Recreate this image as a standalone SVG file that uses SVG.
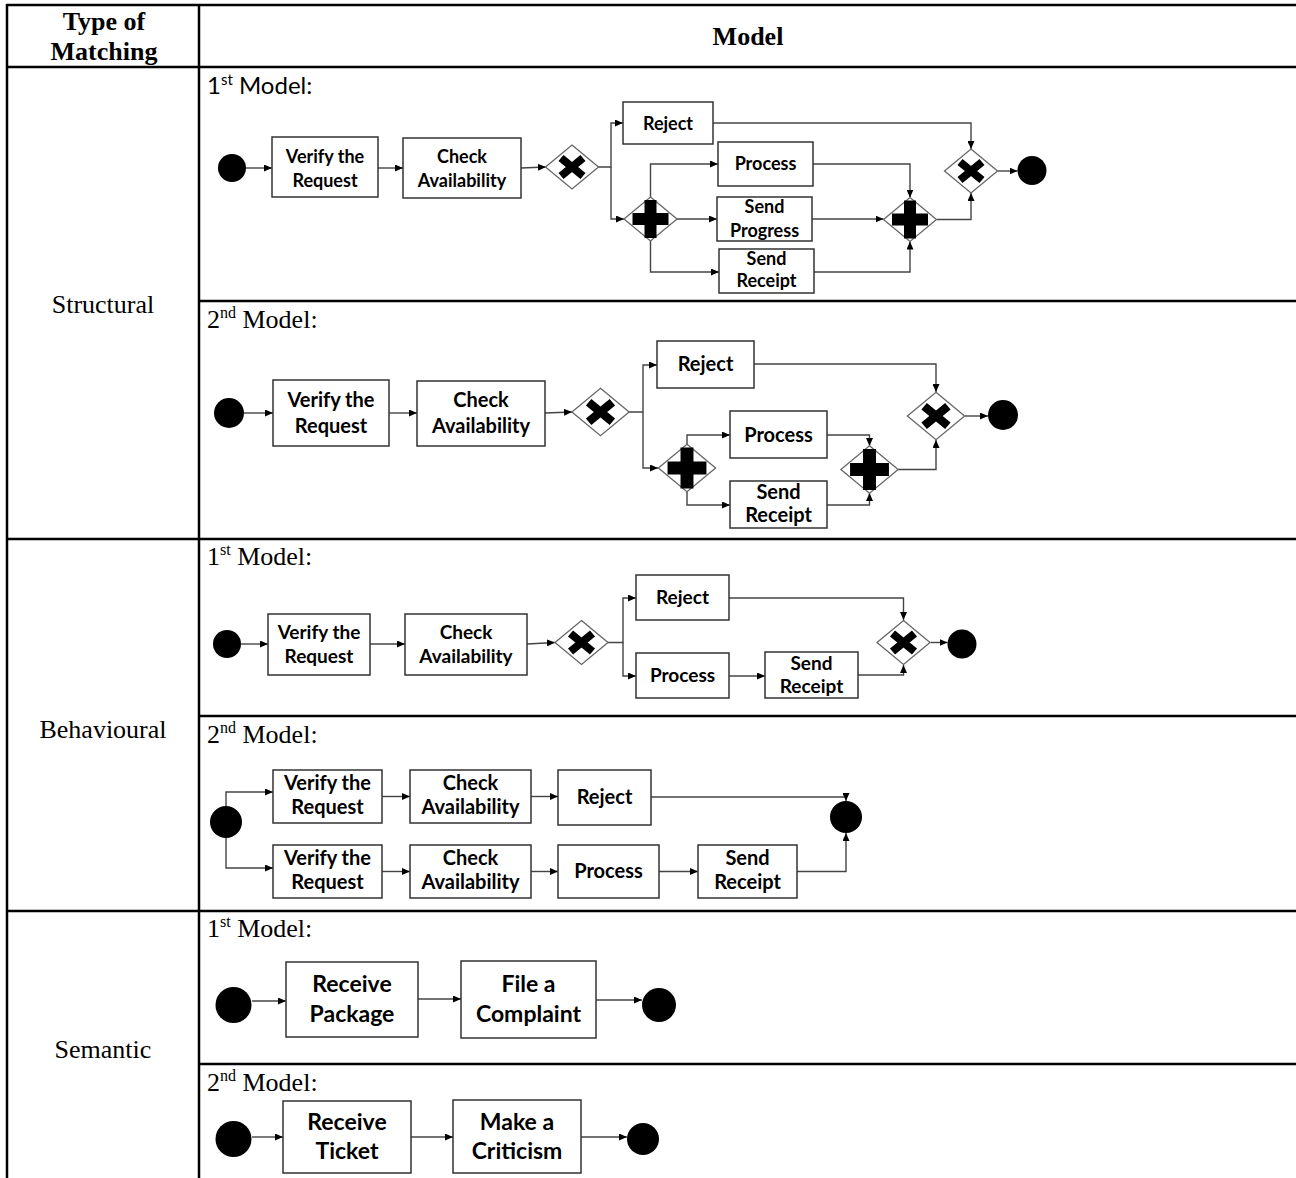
<svg xmlns="http://www.w3.org/2000/svg" width="1296" height="1178" viewBox="0 0 1296 1178">
<style>
.bg{fill:#fff}
.tbl{stroke:#000;stroke-width:2.5;fill:none}
.task{fill:#fff;stroke:#333;stroke-width:1.5}
.gw{fill:#fff;stroke:#666;stroke-width:1.3}
.ev{fill:#000}
.conn{fill:none;stroke:#444;stroke-width:1.4;marker-end:url(#arr)}
.hdr{font-family:"Liberation Serif","Times New Roman",serif;font-weight:bold;font-size:26px;fill:#000;text-anchor:middle}
.cat{font-family:"Liberation Serif","Times New Roman",serif;font-size:26px;fill:#000;text-anchor:middle}
.mlab{font-family:"Liberation Serif","Times New Roman",serif;font-size:26px;fill:#000}
.mlabs{font-family:Lato,"Liberation Sans",sans-serif;font-size:24px;fill:#000}
.t{font-family:Lato,"Liberation Sans",sans-serif;font-weight:bold;fill:#000;text-anchor:middle}
.s1{font-size:18px}
.s2{font-size:20px}
.s3{font-size:19px}
.s4{font-size:20px}
.s5{font-size:23px}
</style>
<defs>
<marker id="arr" markerUnits="userSpaceOnUse" markerWidth="8" markerHeight="7" refX="8" refY="3.5" orient="auto">
<path d="M0,0 L8,3.5 L0,7 Z" fill="#000"/>
</marker>
<g id="xorG">
<polygon class="gw" points="0,-22 26.5,0 0,22 -26.5,0" vector-effect="non-scaling-stroke"/>
<path d="M-11,-9 L11,9 M11,-9 L-11,9" stroke="#000" stroke-width="8" fill="none"/>
</g>
<g id="andG">
<polygon class="gw" points="0,-22 26.5,0 0,22 -26.5,0" vector-effect="non-scaling-stroke"/>
<path d="M-18,-6 H-6 V-19 H6 V-6 H18 V6 H6 V19 H-6 V6 H-18 Z" fill="#000"/>
</g>
</defs>
<rect class="bg" x="0" y="0" width="1296" height="1178"/>

<g id="table">
<line class="tbl" x1="6" y1="5" x2="1296" y2="5"/>
<line class="tbl" x1="6" y1="67" x2="1296" y2="67"/>
<line class="tbl" x1="6" y1="539" x2="1296" y2="539"/>
<line class="tbl" x1="6" y1="911" x2="1296" y2="911"/>
<line class="tbl" x1="199" y1="301" x2="1296" y2="301"/>
<line class="tbl" x1="199" y1="716" x2="1296" y2="716"/>
<line class="tbl" x1="199" y1="1064" x2="1296" y2="1064"/>
<line class="tbl" x1="7" y1="4" x2="7" y2="1178"/>
<line class="tbl" x1="199" y1="4" x2="199" y2="1178"/>
<text class="hdr" x="104" y="30">Type of</text>
<text class="hdr" x="104" y="60">Matching</text>
<text class="hdr" x="748" y="45">Model</text>
<text class="cat" x="103" y="313">Structural</text>
<text class="cat" x="103" y="738">Behavioural</text>
<text class="cat" x="103" y="1058">Semantic</text>
<text class="mlabs" x="207" y="94">1<tspan dy="-9" font-size="15">st</tspan><tspan dy="9"> Model:</tspan></text>
<text class="mlab" x="207" y="328">2<tspan dy="-10" font-size="16">nd</tspan><tspan dy="10"> Model:</tspan></text>
<text class="mlab" x="207" y="565">1<tspan dy="-10" font-size="16">st</tspan><tspan dy="10"> Model:</tspan></text>
<text class="mlab" x="207" y="743">2<tspan dy="-10" font-size="16">nd</tspan><tspan dy="10"> Model:</tspan></text>
<text class="mlab" x="207" y="937">1<tspan dy="-10" font-size="16">st</tspan><tspan dy="10"> Model:</tspan></text>
<text class="mlab" x="207" y="1091">2<tspan dy="-10" font-size="16">nd</tspan><tspan dy="10"> Model:</tspan></text>
</g>

<g id="connectors">
<!-- Structural 1st -->
<path class="conn" d="M246,168 H272"/>
<path class="conn" d="M378,168 H403"/>
<path class="conn" d="M521,168 L546,167"/>
<path class="conn" d="M598,167 H611 V123 H623"/>
<path class="conn" d="M611,167 V219 H624"/>
<path class="conn" d="M650.5,197 V164 H718"/>
<path class="conn" d="M677,219 H717"/>
<path class="conn" d="M650.5,241 V272 H719"/>
<path class="conn" d="M813,164 H910 V197.5"/>
<path class="conn" d="M812,219 H883.5"/>
<path class="conn" d="M814,272 H910 V241.5"/>
<path class="conn" d="M713,123 H971 V149"/>
<path class="conn" d="M937,219.5 H971 V193"/>
<path class="conn" d="M997.5,171 H1017.5"/>
<!-- Structural 2nd -->
<path class="conn" d="M244,413 H273"/>
<path class="conn" d="M389,413 H417"/>
<path class="conn" d="M545,413 L572,412"/>
<path class="conn" d="M629,412 H643 V365 H657"/>
<path class="conn" d="M643,412 V468 H658"/>
<path class="conn" d="M687,444 V435 H730"/>
<path class="conn" d="M687,492 V505 H730"/>
<path class="conn" d="M827,435 H869.5 V446"/>
<path class="conn" d="M827,505 H869.5 V493"/>
<path class="conn" d="M754,364 H936 V392"/>
<path class="conn" d="M898,469.5 H936 V440"/>
<path class="conn" d="M965,416 H988"/>
<!-- Behavioural 1st -->
<path class="conn" d="M241,644 H268"/>
<path class="conn" d="M370,644 H405"/>
<path class="conn" d="M527,644 L555,642.5"/>
<path class="conn" d="M608,642.5 H623 V598 H636"/>
<path class="conn" d="M623,642.5 V676 H636"/>
<path class="conn" d="M729,676 H765"/>
<path class="conn" d="M729,598 H903.5 V620"/>
<path class="conn" d="M858,675 H903.5 V665"/>
<path class="conn" d="M930.5,642.5 H947.5"/>
<!-- Behavioural 2nd -->
<path class="conn" d="M226,806 V792 H273"/>
<path class="conn" d="M226,838 V868 H273"/>
<path class="conn" d="M382,796.5 H410"/>
<path class="conn" d="M531,796.5 H558"/>
<path class="conn" d="M382,871.5 H410"/>
<path class="conn" d="M531,871.5 H558"/>
<path class="conn" d="M659,871.5 H698"/>
<path class="conn" d="M651,797 H846 V801"/>
<path class="conn" d="M797,871.5 H846 V833"/>
<!-- Semantic 1st -->
<path class="conn" d="M252,1001 H286"/>
<path class="conn" d="M418,999 H461"/>
<path class="conn" d="M596,1000 H642"/>
<!-- Semantic 2nd -->
<path class="conn" d="M252,1137 H283"/>
<path class="conn" d="M411,1137 H453"/>
<path class="conn" d="M581,1137 H627"/>
</g>

<!-- Structural 1st model nodes -->
<g id="s1-start"><circle class="ev" cx="232" cy="168" r="14"/></g>
<g id="s1-verify"><rect class="task" x="272" y="137" width="106" height="60"/><text class="t s1" x="325" y="163">Verify the</text><text class="t s1" x="325" y="187">Request</text></g>
<g id="s1-check"><rect class="task" x="403" y="138" width="118" height="60"/><text class="t s1" x="462" y="163">Check</text><text class="t s1" x="462" y="187">Availability</text></g>
<g id="s1-xor1"><use href="#xorG" transform="translate(572,167)"/></g>
<g id="s1-reject"><rect class="task" x="623" y="102" width="90" height="42"/><text class="t s1" x="668" y="130">Reject</text></g>
<g id="s1-and1"><use href="#andG" transform="translate(650.5,219)"/></g>
<g id="s1-process"><rect class="task" x="718" y="142" width="95" height="44"/><text class="t s1" x="765.5" y="170">Process</text></g>
<g id="s1-sendprogress"><rect class="task" x="717" y="197" width="95" height="44"/><text class="t s1" x="764.5" y="213">Send</text><text class="t s1" x="764.5" y="237">Progress</text></g>
<g id="s1-sendreceipt"><rect class="task" x="719" y="249" width="95" height="44"/><text class="t s1" x="766.5" y="265">Send</text><text class="t s1" x="766.5" y="287">Receipt</text></g>
<g id="s1-and2"><use href="#andG" transform="translate(910,219.5)"/></g>
<g id="s1-xor2"><use href="#xorG" transform="translate(971,171)"/></g>
<g id="s1-end"><circle class="ev" cx="1032" cy="170.5" r="14.5"/></g>

<!-- Structural 2nd model nodes -->
<g id="s2-start"><circle class="ev" cx="229" cy="413" r="15"/></g>
<g id="s2-verify"><rect class="task" x="273" y="380" width="116" height="66"/><text class="t s2" x="331" y="407">Verify the</text><text class="t s2" x="331" y="433">Request</text></g>
<g id="s2-check"><rect class="task" x="417" y="381" width="128" height="65"/><text class="t s2" x="481" y="407">Check</text><text class="t s2" x="481" y="433">Availability</text></g>
<g id="s2-xor1"><use href="#xorG" transform="translate(600.5,412) scale(1.08)"/></g>
<g id="s2-reject"><rect class="task" x="657" y="341" width="97" height="47"/><text class="t s2" x="705.5" y="371">Reject</text></g>
<g id="s2-and1"><use href="#andG" transform="translate(687,468) scale(1.08)"/></g>
<g id="s2-process"><rect class="task" x="730" y="411" width="97" height="47"/><text class="t s2" x="778.5" y="442">Process</text></g>
<g id="s2-sendreceipt"><rect class="task" x="730" y="481" width="97" height="47"/><text class="t s2" x="778.5" y="499">Send</text><text class="t s2" x="778.5" y="522">Receipt</text></g>
<g id="s2-and2"><use href="#andG" transform="translate(869.5,469.5) scale(1.08)"/></g>
<g id="s2-xor2"><use href="#xorG" transform="translate(936,416) scale(1.08)"/></g>
<g id="s2-end"><circle class="ev" cx="1003" cy="415" r="15"/></g>

<!-- Behavioural 1st model nodes -->
<g id="b1-start"><circle class="ev" cx="227" cy="644" r="14"/></g>
<g id="b1-verify"><rect class="task" x="268" y="614" width="102" height="61"/><text class="t s3" x="319" y="639">Verify the</text><text class="t s3" x="319" y="663">Request</text></g>
<g id="b1-check"><rect class="task" x="405" y="614" width="122" height="61"/><text class="t s3" x="466" y="639">Check</text><text class="t s3" x="466" y="663">Availability</text></g>
<g id="b1-xor1"><use href="#xorG" transform="translate(581.5,642.5)"/></g>
<g id="b1-reject"><rect class="task" x="636" y="575" width="93" height="45"/><text class="t s3" x="682.5" y="604">Reject</text></g>
<g id="b1-process"><rect class="task" x="636" y="653" width="93" height="45"/><text class="t s3" x="682.5" y="682">Process</text></g>
<g id="b1-sendreceipt"><rect class="task" x="765" y="652" width="93" height="46"/><text class="t s3" x="811.5" y="670">Send</text><text class="t s3" x="811.5" y="693">Receipt</text></g>
<g id="b1-xor2"><use href="#xorG" transform="translate(903.5,642.5)"/></g>
<g id="b1-end"><circle class="ev" cx="962" cy="644" r="14.5"/></g>

<!-- Behavioural 2nd model nodes -->
<g id="b2-start"><circle class="ev" cx="226" cy="822" r="16"/></g>
<g id="b2-verify1"><rect class="task" x="273" y="770" width="109" height="53"/><text class="t s4" x="327.5" y="790">Verify the</text><text class="t s4" x="327.5" y="814">Request</text></g>
<g id="b2-check1"><rect class="task" x="410" y="770" width="121" height="53"/><text class="t s4" x="470.5" y="790">Check</text><text class="t s4" x="470.5" y="814">Availability</text></g>
<g id="b2-reject"><rect class="task" x="558" y="770" width="93" height="55"/><text class="t s4" x="604.5" y="804">Reject</text></g>
<g id="b2-verify2"><rect class="task" x="273" y="845" width="109" height="53"/><text class="t s4" x="327.5" y="865">Verify the</text><text class="t s4" x="327.5" y="889">Request</text></g>
<g id="b2-check2"><rect class="task" x="410" y="845" width="121" height="53"/><text class="t s4" x="470.5" y="865">Check</text><text class="t s4" x="470.5" y="889">Availability</text></g>
<g id="b2-process"><rect class="task" x="558" y="845" width="101" height="53"/><text class="t s4" x="608.5" y="878">Process</text></g>
<g id="b2-sendreceipt"><rect class="task" x="698" y="845" width="99" height="53"/><text class="t s4" x="747.5" y="865">Send</text><text class="t s4" x="747.5" y="889">Receipt</text></g>
<g id="b2-end"><circle class="ev" cx="846" cy="817" r="16"/></g>

<!-- Semantic 1st model nodes -->
<g id="m1-start"><circle class="ev" cx="233.5" cy="1005" r="18"/></g>
<g id="m1-receive"><rect class="task" x="286" y="962" width="132" height="75"/><text class="t s5" x="352" y="992">Receive</text><text class="t s5" x="352" y="1022">Package</text></g>
<g id="m1-file"><rect class="task" x="461" y="961" width="135" height="77"/><text class="t s5" x="528.5" y="992">File a</text><text class="t s5" x="528.5" y="1022">Complaint</text></g>
<g id="m1-end"><circle class="ev" cx="659" cy="1005" r="17"/></g>

<!-- Semantic 2nd model nodes -->
<g id="m2-start"><circle class="ev" cx="233.5" cy="1139" r="18"/></g>
<g id="m2-receive"><rect class="task" x="283" y="1101" width="128" height="72"/><text class="t s5" x="347" y="1130">Receive</text><text class="t s5" x="347" y="1159">Ticket</text></g>
<g id="m2-make"><rect class="task" x="453" y="1100" width="128" height="73"/><text class="t s5" x="517" y="1130">Make a</text><text class="t s5" x="517" y="1159">Criticism</text></g>
<g id="m2-end"><circle class="ev" cx="643" cy="1139" r="16"/></g>
</svg>
